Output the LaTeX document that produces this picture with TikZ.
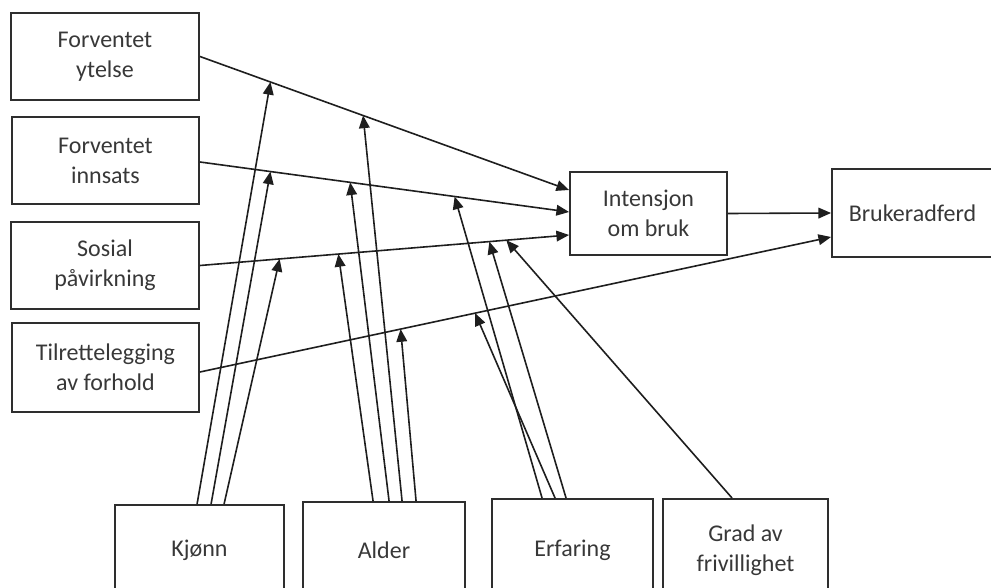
\documentclass[tikz,border=0pt]{standalone}
\usepackage{fontspec}
\setmainfont{Carlito}
\usetikzlibrary{arrows.meta,calc}
\definecolor{boxc}{HTML}{2E2E2E}
\definecolor{linec}{HTML}{1E1E1E}
\definecolor{textc}{HTML}{383838}
\begin{document}
\begin{tikzpicture}[x=0.75pt,y=-0.75pt,
  box/.style={draw=boxc, line width=1.4pt, rectangle, inner sep=0pt, align=center, text=textc, font=\fontsize{18}{22.5}\selectfont},
  arr/.style={draw=linec, line width=1.2pt, -{Triangle[length=9.5pt,width=8pt]}}]
\useasboundingbox (0,0) rectangle (991,588);
\clip (0,0) rectangle (991,588);
% boxes
\node[box, minimum width=141pt, minimum height=65.25pt] (ytelse) at (105,56.5) {Forventet\\ytelse};
\node[box, minimum width=140.25pt, minimum height=65.25pt] (innsats) at (105.5,160.5) {Forventet\\innsats};
\node[box, minimum width=141pt, minimum height=65.25pt] (sosial) at (105,265.5) {Sosial\\påvirkning};
\node[box, minimum width=140.25pt, minimum height=66.75pt] (tilrett) at (105.5,367.5) {Tilrettelegging\\av forhold};
\node[box, minimum width=117.75pt, minimum height=62.25pt] (intensjon) at (648.5,213.5) {Intensjon\\om bruk};
\node[box, minimum width=120.75pt, minimum height=66pt] (bruker) at (912.5,213) {Brukeradferd};
\node[box, minimum width=126.75pt, minimum height=67.5pt] (kjonn) at (199.5,550) {Kjønn};
\node[box, minimum width=121.5pt, minimum height=72pt] (alder) at (384,550) {Alder};
\node[box, minimum width=120.75pt, minimum height=76.5pt] (erfaring) at (572.5,550) {Erfaring};
\node[box, minimum width=123.75pt, minimum height=76.5pt] (grad) at (745.5,550) {Grad av\\frivillighet};
% main arrows
\draw[arr] (ytelse.east) -- coordinate[pos=0.191] (yK) coordinate[pos=0.442] (yA) ($(intensjon.west)+(0,-23.5)$);
\draw[arr] ($(innsats.east)+(0,1.5)$) -- coordinate[pos=0.191] (iK) coordinate[pos=0.407] (iA) coordinate[pos=0.690] (iE) ($(intensjon.west)+(0,-1.5)$);
\draw[arr] (sosial.east) -- coordinate[pos=0.216] (sK) coordinate[pos=0.375] (sA) coordinate[pos=0.784] (sE) coordinate[pos=0.830] (sG) ($(intensjon.west)+(0,21.5)$);
\draw[arr] ($(tilrett.east)+(0,4.5)$) -- coordinate[pos=0.318] (tA) coordinate[pos=0.436] (tE) ($(bruker.west)+(0,24)$);
\draw[arr] (intensjon.east) -- (bruker.west);
% moderators
\draw[arr] ($(kjonn.north west)+(83,0)$) -- (yK);
\draw[arr] ($(kjonn.north west)+(97,0)$) -- (iK);
\draw[arr] ($(kjonn.north west)+(110,0)$) -- (sK);
\draw[arr] ($(alder.north west)+(71,0)$) -- (sA);
\draw[arr] ($(alder.north west)+(87,0)$) -- (iA);
\draw[arr] ($(alder.north west)+(100,0)$) -- (yA);
\draw[arr] ($(alder.north west)+(114,0)$) -- (tA);
\draw[arr] ($(erfaring.north west)+(51,0)$) -- (iE);
\draw[arr] ($(erfaring.north west)+(64,0)$) -- (tE);
\draw[arr] ($(erfaring.north west)+(75,0)$) -- (sE);
\draw[arr] ($(grad.north west)+(70,0)$) -- (sG);
\end{tikzpicture}
\end{document}
